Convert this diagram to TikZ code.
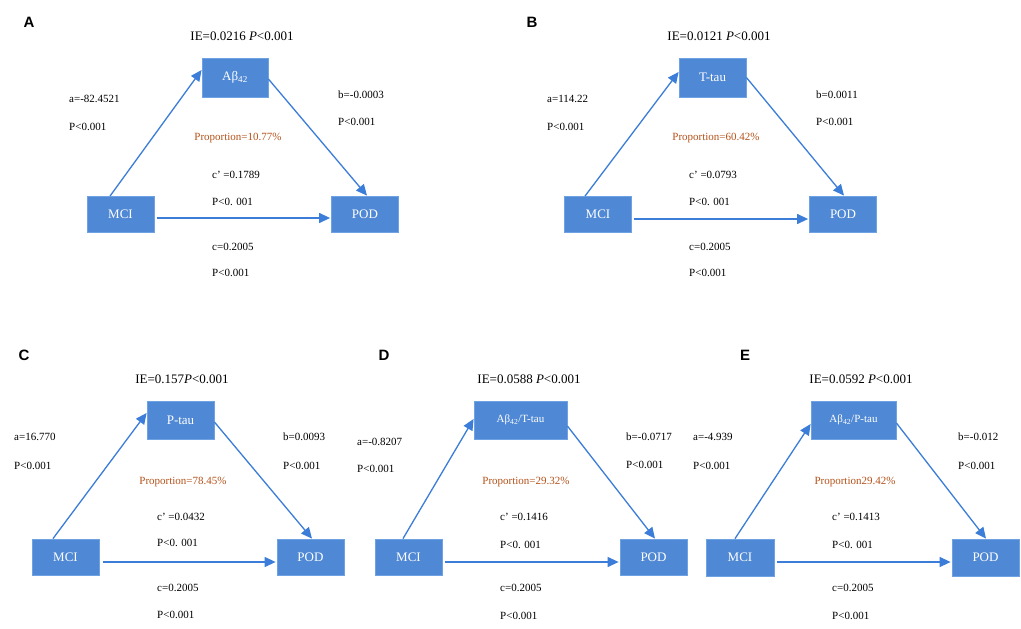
\documentclass[tikz,border=0pt]{standalone}
\usepackage{fontspec}
\setmainfont{Liberation Serif}
\newfontfamily\letterfont{Liberation Sans}
\usetikzlibrary{arrows.meta,calc}
\definecolor{boxfill}{HTML}{4F88D4}
\definecolor{boxline}{HTML}{6FA2E2}
\definecolor{arrowc}{HTML}{3B7DD8}
\definecolor{propc}{HTML}{B5531B}
\tikzset{
  mbox/.style={draw=boxline, fill=boxfill, text=white, line width=0.8pt,
    font=\fontsize{13}{15}\selectfont, inner sep=0pt, minimum width=67pt, minimum height=36pt},
  topbox/.style={mbox, minimum height=38pt},
  arr/.style={draw=arrowc, line width=1.3pt, -{Triangle[length=11pt,width=10pt]}},
  lbl/.style={anchor=west, inner sep=0pt, font=\fontsize{11}{13}\selectfont},
  prop/.style={inner sep=0pt, text=propc, font=\fontsize{11}{13}\selectfont},
  ie/.style={inner sep=0pt, font=\fontsize{13}{15}\selectfont},
  plet/.style={inner sep=0pt, font=\letterfont\bfseries\fontsize{15}{17}\selectfont}
}
\begin{document}
\begin{tikzpicture}[x=1pt,y=-1pt]
\useasboundingbox (0,0) rectangle (1021,629);
\fill[white] (0,0) rectangle (1021,629);

% ---------- Panel A ----------
\node[plet] (letA) at (29,22) {A};
\node[ie] (ieA) at (242,36) {IE=0.0216 \textit{P}<0.001};
\node[topbox, minimum width=66pt, minimum height=39pt] (midA) at (235,77.5) {Aβ\textsubscript{42}};
\node[mbox] (mciA) at (120.5,214.5) {MCI};
\node[mbox] (podA) at (365,214) {POD};
\node[lbl] (aA) at (69,99) {a=-82.4521};
\node[lbl] (apA) at (69,127) {P<0.001};
\node[lbl] (bA) at (338,95) {b=-0.0003};
\node[lbl] (bpA) at (338,122) {P<0.001};
\node[prop] (prA) at (238,138) {Proportion=10.77\%};
\node[lbl] (cpA) at (212,175) {c’ =0.1789};
\node[lbl] (cppA) at (212,202) {P<0. 001};
\node[lbl] (cA) at (212,247) {c=0.2005};
\node[lbl] (ccA) at (212,273) {P<0.001};
\draw[arr] ($(mciA.north)+(-10.5,0)$) -- ($(midA.west)+(0,-7.5)$);
\draw[arr] ($(midA.east)+(0,1.5)$) -- ($(podA.north)+(2,0)$);
\draw[arr] ($(mciA.east)+(3,3.5)$) -- ($(podA.west)+(-1,4)$);

% ---------- Panel B ----------
\node[plet] (letB) at (532,22) {B};
\node[ie] (ieB) at (719,36) {IE=0.0121 \textit{P}<0.001};
\node[topbox, minimum height=39pt] (midB) at (712.5,77.5) {T-tau};
\node[mbox] (mciB) at (598,214.5) {MCI};
\node[mbox] (podB) at (843,214) {POD};
\node[lbl] (aB) at (547,99) {a=114.22};
\node[lbl] (apB) at (547,127) {P<0.001};
\node[lbl] (bB) at (816,95) {b=0.0011};
\node[lbl] (bpB) at (816,122) {P<0.001};
\node[prop] (prB) at (716,138) {Proportion=60.42\%};
\node[lbl] (cpB) at (689,175) {c’ =0.0793};
\node[lbl] (cppB) at (689,202) {P<0. 001};
\node[lbl] (cB) at (689,247) {c=0.2005};
\node[lbl] (ccB) at (689,273) {P<0.001};
\draw[arr] ($(mciB.north)+(-13,0)$) -- ($(midB.west)+(0,-5.5)$);
\draw[arr] ($(midB.east)+(0,0)$) -- ($(podB.north)+(1,0)$);
\draw[arr] ($(mciB.east)+(2,4.5)$) -- ($(podB.west)+(-1,5)$);

% ---------- Panel C ----------
\node[plet] (letC) at (24,355.5) {C};
\node[ie] (ieC) at (182,379) {IE=0.157\textit{P}<0.001};
\node[topbox] (midC) at (180.5,420) {P-tau};
\node[mbox] (mciC) at (65.5,557) {MCI};
\node[mbox] (podC) at (310.5,557) {POD};
\node[lbl] (aC) at (14,437) {a=16.770};
\node[lbl] (apC) at (14,466) {P<0.001};
\node[lbl] (bC) at (283,437) {b=0.0093};
\node[lbl] (bpC) at (283,466) {P<0.001};
\node[prop] (prC) at (183,482) {Proportion=78.45\%};
\node[lbl] (cpC) at (157,517) {c’ =0.0432};
\node[lbl] (cppC) at (157,543) {P<0. 001};
\node[lbl] (cC) at (157,588) {c=0.2005};
\node[lbl] (ccC) at (157,615) {P<0.001};
\draw[arr] ($(mciC.north)+(-12.5,0)$) -- ($(midC.west)+(0,-7)$);
\draw[arr] ($(midC.east)+(0,2)$) -- ($(podC.north)+(1.5,0)$);
\draw[arr] ($(mciC.east)+(4,5)$) -- ($(podC.west)+(-1,5)$);

% ---------- Panel D ----------
\node[plet] (letD) at (384,355.5) {D};
\node[ie] (ieD) at (529,379) {IE=0.0588 \textit{P}<0.001};
\node[topbox, minimum width=93pt] (midD) at (520.5,420) {\fontsize{11}{13}\selectfont Aβ\textsubscript{42}/T-tau};
\node[mbox] (mciD) at (408.5,557) {MCI};
\node[mbox] (podD) at (653.5,557) {POD};
\node[lbl] (aD) at (357,442) {a=-0.8207};
\node[lbl] (apD) at (357,469) {P<0.001};
\node[lbl] (bD) at (626,437) {b=-0.0717};
\node[lbl] (bpD) at (626,465) {P<0.001};
\node[prop] (prD) at (526,482) {Proportion=29.32\%};
\node[lbl] (cpD) at (500,517) {c’ =0.1416};
\node[lbl] (cppD) at (500,545) {P<0. 001};
\node[lbl] (cD) at (500,588) {c=0.2005};
\node[lbl] (ccD) at (500,616) {P<0.001};
\draw[arr] ($(mciD.north)+(-5.5,0)$) -- ($(midD.west)+(0,-1)$);
\draw[arr] ($(midD.east)+(0,6)$) -- ($(podD.north)+(1.5,0)$);
\draw[arr] ($(mciD.east)+(3,5)$) -- ($(podD.west)+(-1,5)$);

% ---------- Panel E ----------
\node[plet] (letE) at (745,355.5) {E};
\node[ie] (ieE) at (861,379) {IE=0.0592 \textit{P}<0.001};
\node[topbox, minimum width=85pt] (midE) at (853.5,420) {\fontsize{11}{13}\selectfont Aβ\textsubscript{42}/P-tau};
\node[mbox, minimum width=68pt, minimum height=37pt] (mciE) at (740,557.5) {MCI};
\node[mbox, minimum height=37pt] (podE) at (985.5,557.5) {POD};
\node[lbl] (aE) at (693,437) {a=-4.939};
\node[lbl] (apE) at (693,466) {P<0.001};
\node[lbl] (bE) at (958,437) {b=-0.012};
\node[lbl] (bpE) at (958,466) {P<0.001};
\node[prop] (prE) at (855,482) {Proportion29.42\%};
\node[lbl] (cpE) at (832,517) {c’ =0.1413};
\node[lbl] (cppE) at (832,545) {P<0. 001};
\node[lbl] (cE) at (832,588) {c=0.2005};
\node[lbl] (ccE) at (832,616) {P<0.001};
\draw[arr] ($(mciE.north)+(-5,0)$) -- ($(midE.west)+(0,4)$);
\draw[arr] ($(midE.east)+(0,3)$) -- ($(podE.north)+(0.5,0)$);
\draw[arr] ($(mciE.east)+(3,4.5)$) -- ($(podE.west)+(-1,4.5)$);
\end{tikzpicture}
\end{document}
